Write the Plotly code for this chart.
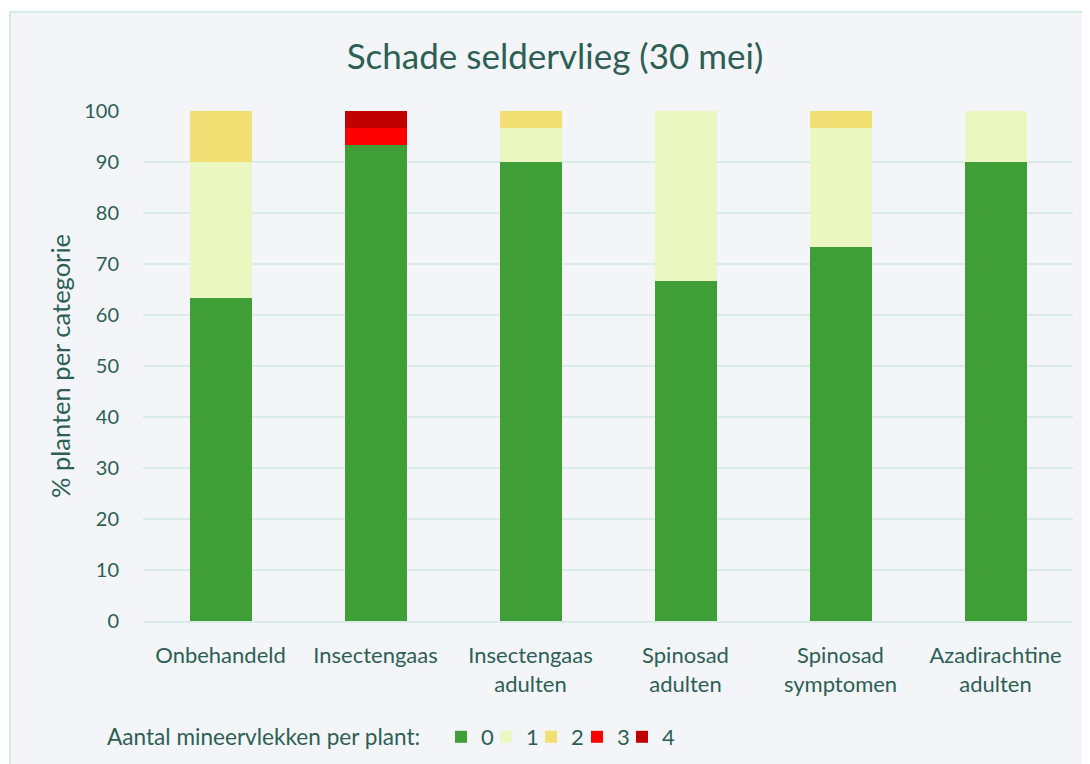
import plotly.graph_objects as go

categories = ["Onbehandeld", "Insectengaas", "Insectengaas<br>adulten", "Spinosad<br>adulten",
              "Spinosad<br>symptomen", "Azadirachtine<br>adulten"]
series_names = ["0", "1", "2", "3", "4"]
v0 = [63.33, 93.33, 90.0, 66.67, 73.33, 90.0]
v1 = [26.67, 0.0, 6.67, 33.33, 23.33, 10.0]
v2 = [10.0, 0.0, 3.33, 0.0, 3.33, 0.0]
v3 = [0.0, 3.33, 0.0, 0.0, 0.0, 0.0]
v4 = [0.0, 3.33, 0.0, 0.0, 0.0, 0.0]
values = [v0, v1, v2, v3, v4]
colors = ["#3F9E36", "#EAF7C1", "#F1DF74", "#FF0000", "#C00000"]
yticks = [0, 10, 20, 30, 40, 50, 60, 70, 80, 90, 100]

TXT = "#2D5F55"
FONT = "Lato"

OFF = 8  # page body margin
W, H = 1090 - OFF, 764 - OFF
L, R, T, B = 143 - OFF, 17, 111 - OFF, 143
pw, ph = W - L - R, H - T - B

def px(x):  # screen x -> paper
    return (x - OFF - L) / pw

def py(y):  # screen y -> paper
    return (H - B - (y - OFF)) / ph

def cx(x):  # screen x -> container
    return (x - OFF) / W

def cy(y):  # screen y -> container
    return 1 - (y - OFF) / H

legend_ids = ["legend", "legend2", "legend3", "legend4", "legend5"]
legend_x = [441, 486, 531, 577, 622]

fig = go.Figure()
for name, vals, col, lid in zip(series_names, values, colors, legend_ids):
    fig.add_trace(go.Bar(x=categories, y=vals, name=name, legend=lid,
                         marker=dict(color=col, line=dict(width=0))))

layout_legends = {}
for lid, lx in zip(legend_ids, legend_x):
    layout_legends[lid] = dict(orientation="h", xref="container", yref="container",
                               x=cx(lx), xanchor="left", y=cy(737), yanchor="middle",
                               itemwidth=30, font=dict(size=22, color=TXT),
                               bgcolor="rgba(0,0,0,0)")

fig.update_layout(
    width=W, height=H,
    barmode="stack", bargap=0.6,
    margin=dict(l=L, r=R, t=T, b=B),
    paper_bgcolor="white", plot_bgcolor="rgba(0,0,0,0)",
    font=dict(family=FONT, color=TXT, size=22),
    title=dict(text="Schade seldervlieg (30 mei)", x=px(555), xref="paper", xanchor="center",
               y=cy(57), yanchor="middle", yref="container",
               font=dict(size=35, color=TXT, family=FONT)),
    showlegend=True,
    **layout_legends,
    shapes=[dict(type="rect", xref="paper", yref="paper", x0=px(10), x1=px(1100),
                 y0=py(780), y1=py(12), fillcolor="#F3F5F9",
                 line=dict(color="#D6EBE7", width=2), layer="below")],
    annotations=[dict(text="Aantal mineervlekken per plant:", xref="paper", yref="paper",
                      x=px(105), y=py(736), xanchor="left", yanchor="middle", showarrow=False,
                      font=dict(size=22.6, color=TXT, family=FONT))],
)
fig.update_yaxes(range=[0, 100], tickvals=yticks, showgrid=True, gridcolor="#D9ECE8", gridwidth=1.5,
                 zeroline=False, showline=False, ticklabelstandoff=23,
                 title=dict(text="% planten per categorie", standoff=6, font=dict(size=25.5, color=TXT)),
                 tickfont=dict(size=20, color=TXT))
fig.update_xaxes(showline=True, linecolor="#D9ECE8", linewidth=1.5, tickfont=dict(size=22, color=TXT),
                 ticklabelstandoff=14)

fig.write_html("out.html")
